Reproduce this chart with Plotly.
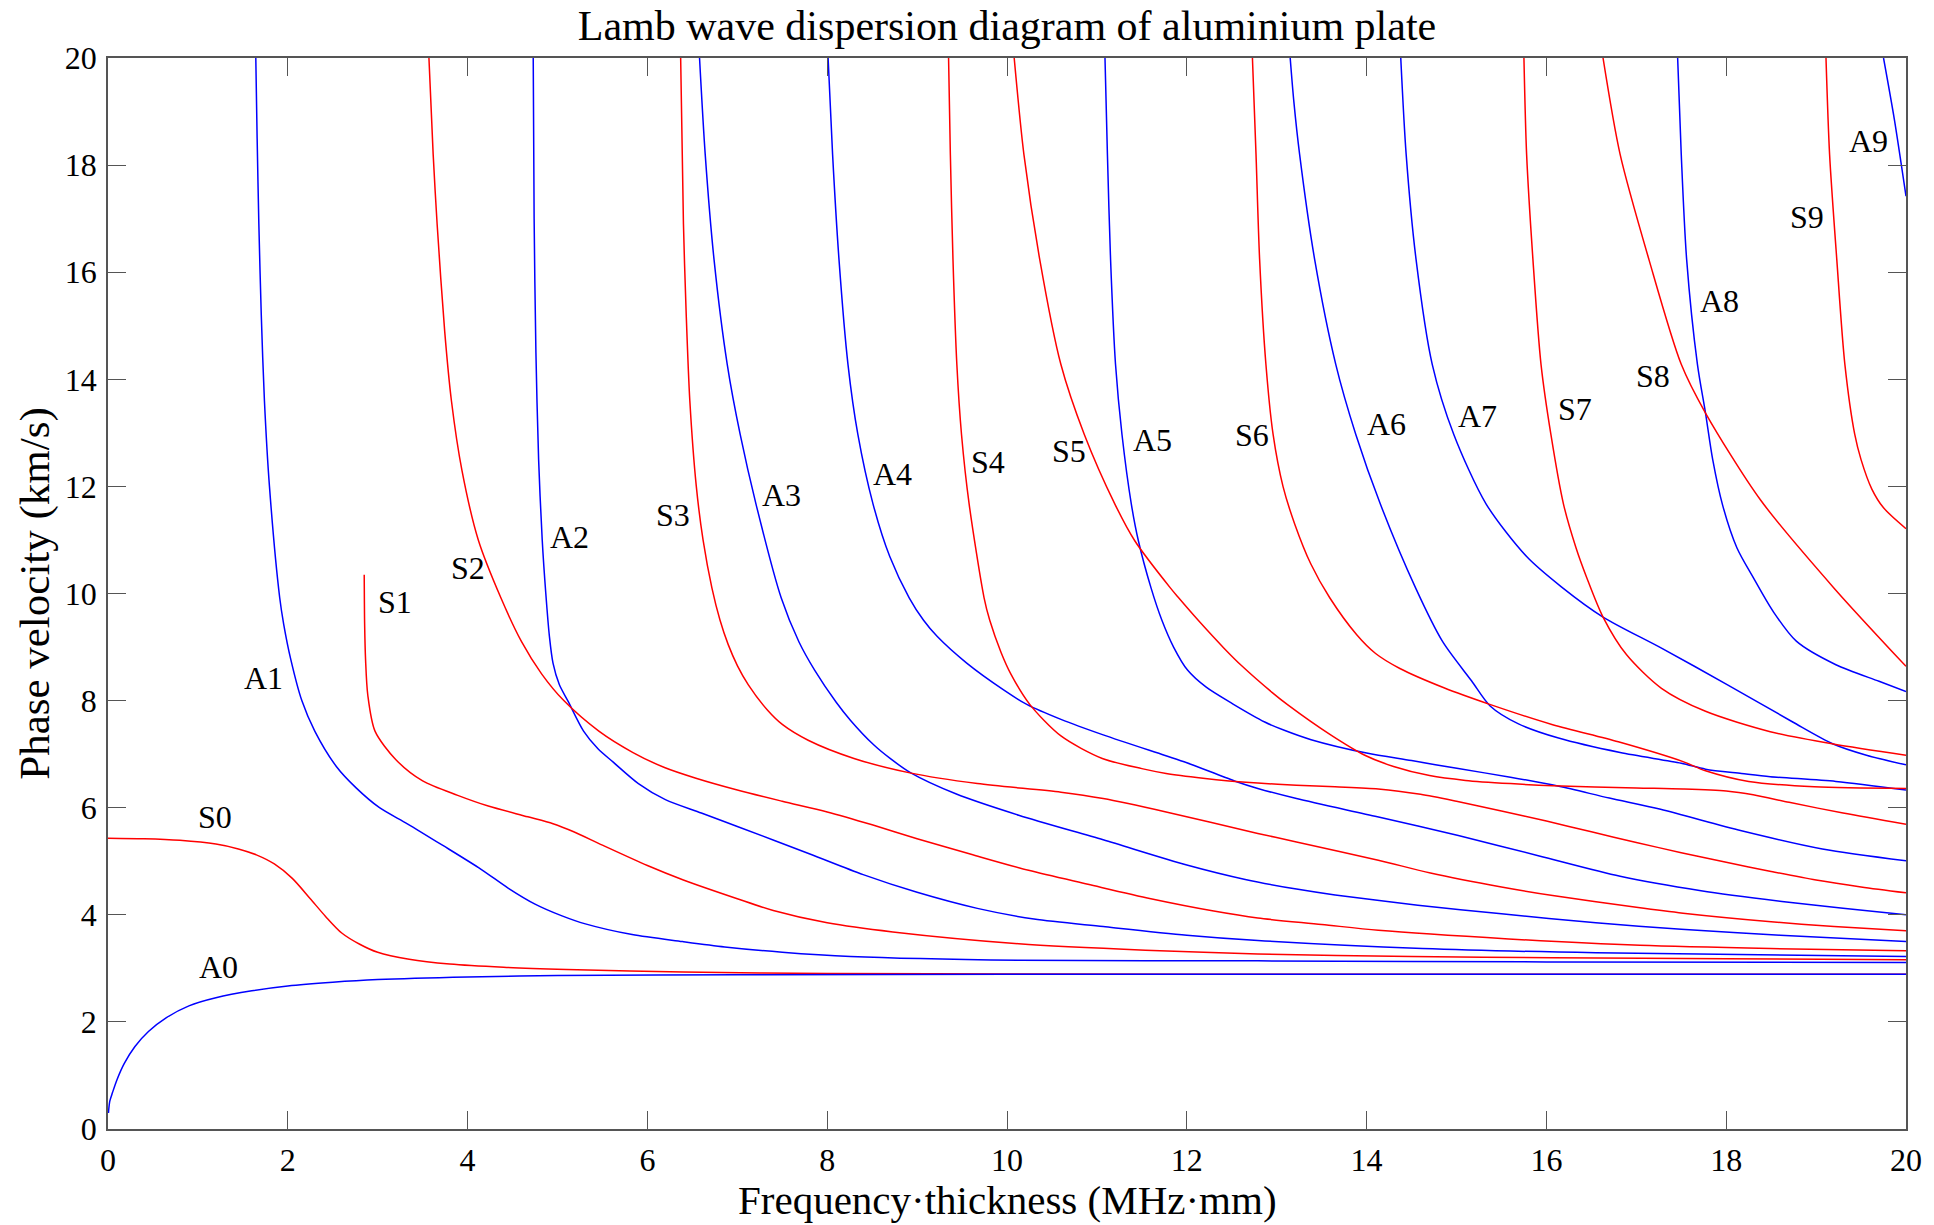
import plotly.graph_objects as go

# Lamb wave dispersion curves of an aluminium plate
# frequency-thickness (MHz*mm) vs phase velocity (km/s)

A0_fd = [0.005, 0.02, 0.05, 0.1, 0.18, 0.3, 0.45, 0.65, 0.9, 1.2, 1.6, 2.0, 2.5, 3.0, 4.0, 5.0, 7.0, 10.0, 14.0, 20.0]
A0_vp = [0.3, 0.52, 0.68, 0.92, 1.22, 1.54, 1.82, 2.08, 2.3, 2.45, 2.58, 2.67, 2.74, 2.79, 2.84, 2.865, 2.88, 2.89, 2.89, 2.89]

S0_fd = [0.0, 0.4, 0.8, 1.2, 1.45, 1.65, 1.85, 2.05, 2.25, 2.42, 2.6, 2.8, 3.0, 3.35, 3.8, 4.4, 5.1, 6.4, 8.0, 10.0, 14.0, 20.0]
S0_vp = [5.43, 5.42, 5.39, 5.32, 5.23, 5.12, 4.95, 4.68, 4.3, 3.97, 3.66, 3.45, 3.3, 3.17, 3.08, 3.02, 2.98, 2.93, 2.905, 2.895, 2.89, 2.89]

A1_fd = [1.644, 1.659, 1.678, 1.705, 1.740, 1.796, 1.910, 1.954, 2.033, 2.156, 2.30, 2.54, 2.76, 3.02, 3.33, 3.72, 4.15, 4.45, 4.75, 5.05, 5.31, 5.83, 6.39, 6.86, 7.5, 8.26, 10.13, 12.79, 16.0, 20.0]
A1_vp = [20.0, 18.5, 16.9, 15.2, 13.6, 12.0, 9.92, 9.43, 8.77, 8.0, 7.43, 6.77, 6.37, 6.0, 5.7, 5.3, 4.85, 4.5, 4.2, 3.98, 3.83, 3.63, 3.5, 3.4, 3.3, 3.22, 3.15, 3.14, 3.12, 3.11]

S1_fd = [2.85, 2.855, 2.865, 2.89, 2.97, 3.2, 3.5, 3.89, 4.23, 4.67, 4.95, 5.18, 5.5, 6.0, 6.4, 7.0, 7.4, 8.0, 8.73, 10.13, 11.54, 12.79, 14.5, 16.07, 18.0, 20.0]
S1_vp = [10.35, 9.4, 8.77, 8.1, 7.43, 6.9, 6.5, 6.23, 6.03, 5.83, 5.7, 5.55, 5.3, 4.92, 4.65, 4.3, 4.08, 3.85, 3.68, 3.46, 3.34, 3.27, 3.22, 3.2, 3.18, 3.16]

A2_fd = [4.73, 4.74, 4.76, 4.79, 4.83, 4.87, 4.91, 4.95, 5.02, 5.12, 5.29, 5.45, 5.62, 5.9, 6.2, 6.6, 7.0, 7.8, 8.4, 9.0, 9.67, 10.3, 11.07, 12.0, 12.79, 14.62, 16.55, 20.0]
A2_vp = [20.0, 17.0, 14.5, 12.5, 11.0, 10.0, 9.2, 8.7, 8.3, 7.98, 7.43, 7.1, 6.85, 6.45, 6.15, 5.9, 5.65, 5.14, 4.75, 4.42, 4.12, 3.92, 3.78, 3.62, 3.52, 3.37, 3.29, 3.22]

S2_fd = [3.57, 3.617, 3.661, 3.745, 3.82, 3.937, 4.119, 4.37, 4.60, 4.823, 5.07, 5.46, 5.84, 6.19, 6.54, 7.0, 7.5, 8.0, 8.5, 9.0, 9.6, 10.24, 10.9, 11.6, 12.3, 12.79, 13.5, 14.13, 15.58, 17.04, 18.49, 20.0]
S2_vp = [20.0, 18.2, 16.9, 14.9, 13.6, 12.3, 11.0, 9.92, 9.1, 8.5, 8.0, 7.43, 7.03, 6.75, 6.55, 6.33, 6.12, 5.92, 5.68, 5.42, 5.13, 4.83, 4.57, 4.3, 4.07, 3.94, 3.82, 3.71, 3.55, 3.43, 3.37, 3.33]

A3_fd = [6.58, 6.643, 6.741, 6.888, 7.032, 7.208, 7.488, 7.685, 7.86, 8.10, 8.26, 8.52, 8.70, 8.93, 9.43, 10.13, 11.07, 12.0, 12.65, 13.22, 13.65, 14.57, 15.5, 16.55, 17.5, 18.6, 20.0]
A3_vp = [20.0, 18.2, 16.24, 14.28, 12.97, 11.67, 9.92, 9.1, 8.57, 7.97, 7.63, 7.17, 6.92, 6.65, 6.26, 5.86, 5.4, 4.93, 4.66, 4.48, 4.37, 4.18, 4.02, 3.85, 3.73, 3.62, 3.5]

S3_fd = [6.37, 6.401, 6.432, 6.472, 6.544, 6.619, 6.718, 6.808, 6.898, 7.002, 7.121, 7.337, 7.504, 7.788, 8.298, 8.92, 9.67, 10.6, 11.07, 11.77, 12.79, 13.22, 14.13, 14.71, 15.5, 16.07, 17.0, 17.52, 18.5, 19.2, 20.0]
S3_vp = [20.0, 16.9, 15.2, 13.6, 12.0, 11.0, 10.1, 9.5, 9.05, 8.65, 8.3, 7.82, 7.55, 7.26, 6.92, 6.65, 6.45, 6.29, 6.17, 5.92, 5.52, 5.36, 5.02, 4.78, 4.52, 4.36, 4.14, 4.03, 3.87, 3.78, 3.7]

A4_fd = [8.01, 8.06, 8.131, 8.231, 8.341, 8.51, 8.696, 8.912, 9.072, 9.222, 9.552, 9.962, 10.22, 10.6, 11.07, 11.75, 12.0, 12.53, 12.79, 13.22, 14.12, 15.02, 15.92, 16.82, 17.72, 18.62, 19.3, 20.0]
A4_vp = [20.0, 18.2, 16.24, 14.28, 12.97, 11.67, 10.69, 9.92, 9.5, 9.2, 8.7, 8.2, 7.93, 7.65, 7.36, 6.98, 6.84, 6.5, 6.36, 6.17, 5.83, 5.48, 5.1, 4.72, 4.45, 4.25, 4.12, 4.0]

S4_fd = [9.35, 9.37, 9.399, 9.442, 9.494, 9.579, 9.745, 9.808, 9.934, 10.042, 10.253, 10.60, 11.06, 11.5, 11.77, 12.18, 12.47, 12.79, 13.22, 13.65, 14.13, 14.6, 15.0, 15.5, 16.0, 16.5, 17.0, 17.5, 18.0, 18.5, 19.0, 19.5, 20.0]
S4_vp = [20.0, 18.2, 16.24, 14.28, 12.97, 11.67, 9.92, 9.5, 8.9, 8.5, 7.93, 7.34, 6.92, 6.73, 6.64, 6.55, 6.5, 6.46, 6.42, 6.39, 6.35, 6.25, 6.12, 5.94, 5.75, 5.55, 5.35, 5.16, 4.98, 4.81, 4.65, 4.52, 4.41]

A5_fd = [11.09, 11.117, 11.152, 11.207, 11.279, 11.383, 11.462, 11.603, 11.723, 11.853, 12.008, 12.216, 12.51, 12.867, 13.077, 13.383, 14.0, 14.5, 15.02, 15.6, 16.14, 16.7, 17.27, 18.17, 19.07, 20.0]
A5_vp = [20.0, 18.2, 16.24, 14.28, 12.97, 11.67, 10.98, 10.1, 9.5, 9.0, 8.57, 8.25, 7.94, 7.6, 7.45, 7.27, 7.02, 6.88, 6.73, 6.57, 6.4, 6.18, 5.97, 5.57, 5.23, 5.01]

S5_fd = [10.08, 10.188, 10.364, 10.599, 10.86, 11.2, 11.423, 11.819, 11.909, 12.127, 12.419, 12.611, 12.951, 13.124, 13.6, 13.98, 14.3, 14.7, 15.1, 15.6, 16.07, 17.0, 17.52, 18.0, 18.3, 18.7, 19.3, 20.0]
S5_vp = [20.0, 18.2, 16.24, 14.28, 12.97, 11.67, 10.98, 10.1, 9.92, 9.5, 8.97, 8.65, 8.15, 7.92, 7.36, 6.98, 6.77, 6.6, 6.51, 6.45, 6.41, 6.37, 6.35, 6.31, 6.24, 6.1, 5.9, 5.69]

A6_fd = [13.15, 13.19, 13.255, 13.422, 13.657, 13.88, 14.153, 14.546, 14.846, 15.167, 15.374, 15.684, 16.135, 16.82, 17.5, 17.77, 18.17, 18.49, 19.22, 20.0]
A6_vp = [20.0, 19.2, 18.2, 16.24, 14.28, 12.97, 11.67, 10.1, 9.1, 8.37, 7.9, 7.57, 7.3, 7.03, 6.83, 6.72, 6.64, 6.58, 6.49, 6.33]

S6_fd = [12.73, 12.77, 12.81, 12.88, 12.96, 13.07, 13.2, 13.38, 13.59, 13.89, 14.1, 14.37, 14.86, 15.37, 16.07, 16.8, 17.52, 17.77, 18.25, 18.98, 20.0]
S6_vp = [20.0, 18.2, 16.24, 14.28, 12.97, 12.0, 11.3, 10.55, 9.92, 9.23, 8.88, 8.6, 8.24, 7.93, 7.55, 7.23, 6.86, 6.69, 6.49, 6.39, 6.36]

A7_fd = [14.38, 14.44, 14.55, 14.73, 14.97, 15.33, 15.78, 16.17, 16.63, 17.28, 18.01, 18.73, 19.19, 19.56, 20.0]
A7_vp = [20.0, 18.2, 16.24, 14.28, 12.97, 11.67, 10.69, 10.12, 9.56, 8.98, 8.3, 7.61, 7.19, 6.98, 6.8]

S7_fd = [15.75, 15.78, 15.85, 15.94, 16.05, 16.19, 16.33, 16.45, 16.63, 16.89, 17.28, 17.77, 18.49, 19.19, 20.0]
S7_vp = [20.0, 18.2, 16.24, 14.28, 12.97, 11.67, 10.85, 10.29, 9.56, 8.86, 8.23, 7.8, 7.42, 7.19, 6.98]

A8_fd = [17.46, 17.5, 17.56, 17.68, 17.77, 17.85, 17.96, 18.12, 18.3, 18.52, 18.78, 19.22, 19.7, 20.0]
A8_vp = [20.0, 18.2, 16.24, 14.28, 13.37, 12.5, 11.65, 10.85, 10.3, 9.67, 9.11, 8.67, 8.36, 8.17]

S8_fd = [16.63, 16.82, 17.14, 17.5, 17.77, 18.38, 19.2, 20.0]
S8_vp = [20.0, 18.2, 16.24, 14.28, 13.37, 11.75, 10.1, 8.64]

A9_fd = [19.75, 19.87, 20.0]
A9_vp = [20.0, 18.86, 17.42]

S9_fd = [19.11, 19.15, 19.23, 19.32, 19.43, 19.50, 19.62, 19.75, 20.0]
S9_vp = [20.0, 18.2, 16.24, 14.28, 12.97, 12.5, 11.95, 11.6, 11.21]

# mode label names and their positions (fd, vp)
label_names = ["A0", "S0", "A1", "S1", "S2", "A2", "S3", "A3", "A4", "S4",
               "S5", "A5", "S6", "A6", "A7", "S7", "S8", "A8", "S9", "A9"]
label_fd = [1.23, 1.19, 1.73, 3.19, 4.0, 5.13, 6.29, 7.49, 8.73, 9.79,
            10.69, 11.62, 12.72, 14.22, 15.23, 16.32, 17.19, 17.93, 18.9, 19.58]
label_vp = [3.03, 5.83, 8.43, 9.85, 10.48, 11.05, 11.46, 11.84, 12.23, 12.46,
            12.67, 12.87, 12.96, 13.16, 13.31, 13.45, 14.06, 15.46, 17.04, 18.45]

x_ticks = list(range(0, 21, 2))
y_ticks = list(range(0, 21, 2))

SYM_COLOR = "#ff0000"
ANTI_COLOR = "#0000ff"
FONT = "Liberation Serif"

modes = [
    ("S0", S0_fd, S0_vp, SYM_COLOR), ("A0", A0_fd, A0_vp, ANTI_COLOR),
    ("A1", A1_fd, A1_vp, ANTI_COLOR), ("A2", A2_fd, A2_vp, ANTI_COLOR),
    ("A3", A3_fd, A3_vp, ANTI_COLOR), ("A4", A4_fd, A4_vp, ANTI_COLOR),
    ("A5", A5_fd, A5_vp, ANTI_COLOR), ("A6", A6_fd, A6_vp, ANTI_COLOR),
    ("A7", A7_fd, A7_vp, ANTI_COLOR), ("A8", A8_fd, A8_vp, ANTI_COLOR),
    ("A9", A9_fd, A9_vp, ANTI_COLOR),
    ("S1", S1_fd, S1_vp, SYM_COLOR), ("S2", S2_fd, S2_vp, SYM_COLOR),
    ("S3", S3_fd, S3_vp, SYM_COLOR), ("S4", S4_fd, S4_vp, SYM_COLOR),
    ("S5", S5_fd, S5_vp, SYM_COLOR), ("S6", S6_fd, S6_vp, SYM_COLOR),
    ("S7", S7_fd, S7_vp, SYM_COLOR), ("S8", S8_fd, S8_vp, SYM_COLOR),
    ("S9", S9_fd, S9_vp, SYM_COLOR),
]

fig = go.Figure()
for name, fd, vp, color in modes:
    fig.add_trace(go.Scatter(
        x=fd, y=vp, mode="lines", name=name,
        line=dict(color=color, width=1.5, shape="spline", smoothing=0.8),
        showlegend=False,
    ))

for txt, fx, fy in zip(label_names, label_fd, label_vp):
    fig.add_annotation(x=fx, y=fy, text=txt, showarrow=False,
                       xanchor="center", yanchor="middle",
                       font=dict(family=FONT, size=32, color="black"))

# axis titles placed as paper annotations
fig.add_annotation(xref="paper", yref="paper", x=0.5, y=-0.0667,
                   text="Frequency\u00b7thickness (MHz\u00b7mm)", showarrow=False,
                   xanchor="center", yanchor="middle",
                   font=dict(family=FONT, size=41, color="black"))
fig.add_annotation(xref="paper", yref="paper", x=-0.041, y=0.5,
                   text="Phase velocity (km/s)", showarrow=False, textangle=-90,
                   xanchor="center", yanchor="middle",
                   font=dict(family=FONT, size=43, color="black"))

axis_common = dict(
    showgrid=False, zeroline=False, showline=True, mirror="ticks",
    linecolor="#555555", linewidth=1.5,
    ticks="inside", ticklen=18, tickwidth=1.3, tickcolor="#555555",
    tickfont=dict(family=FONT, size=32, color="black"),
)

fig.update_xaxes(range=[0, 20], tickvals=x_ticks, ticklabelstandoff=2, **axis_common)
fig.update_yaxes(range=[0, 20], tickvals=y_ticks, ticklabelstandoff=3, **axis_common)

fig.update_layout(
    width=1934, height=1225,
    margin=dict(l=108, r=25, t=58, b=96),
    paper_bgcolor="white", plot_bgcolor="white",
    title=dict(text="Lamb wave dispersion diagram of aluminium plate",
               x=0.5, xref="paper", xanchor="center",
               y=1 - 25 / 1225, yanchor="middle", yref="container",
               font=dict(family=FONT, size=42, color="black")),
)

fig.write_html("out.html")
